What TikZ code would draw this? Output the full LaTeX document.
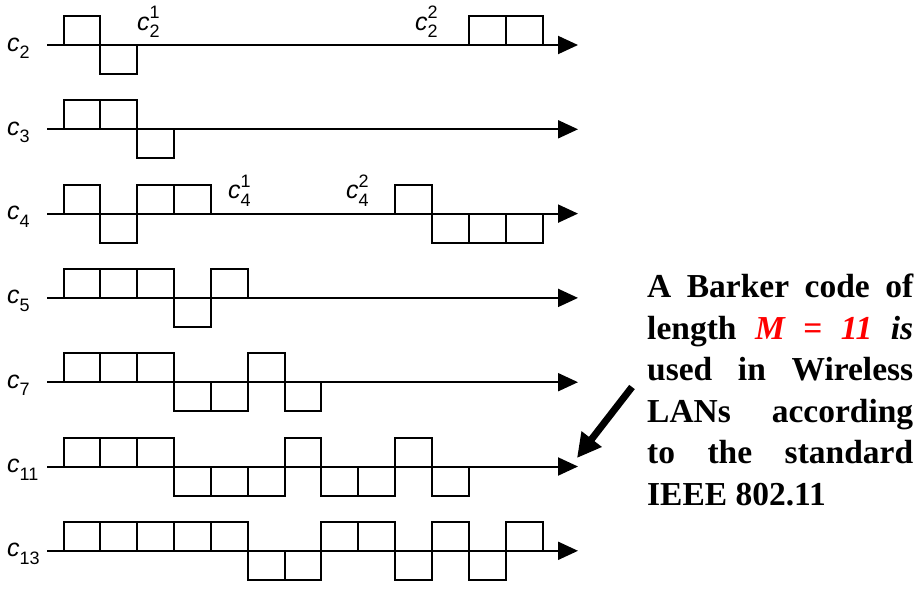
\documentclass[tikz,border=0pt]{standalone}
\usepackage{fontspec}
\usepackage{xcolor}
\usepackage{tikz}
\usetikzlibrary{arrows.meta, positioning, calc}
\newfontfamily\labfont{Liberation Sans}
\newfontfamily\txtfont{Liberation Serif}
\newcommand{\subsz}{\fontsize{18}{18}\selectfont}
\newcommand{\clab}[1]{\textit{c}\raisebox{-0.3em}{\subsz #1}}
\newcommand{\cpart}[2]{\textit{c}\rlap{\raisebox{0.45em}{\subsz #2}}\raisebox{-0.3em}{\subsz #1}}
% one row of chips: start x, axis y, list of signs
\newcommand{\chips}[3]{%
  \foreach \s [count=\i from 0] in {#3} {\draw[chipbox] ({#1+\i*36.85},#2) rectangle ++(36.85,{-29*\s});}}
\hbadness=10000

\begin{document}
\begin{tikzpicture}[
  x=1pt, y=-1pt,
  axis/.style={line width=2pt, -{Triangle[length=20pt, width=18pt]}},
  chipbox/.style={line width=2pt},
  lab/.style={font=\labfont\fontsize{25}{25}\selectfont, inner sep=0pt, anchor=base west},
  note/.style={font=\txtfont\bfseries\fontsize{33.5}{41.5}\selectfont, text width=266pt, align=justify, inner sep=0pt},
  pointer/.style={line width=7pt, -{Triangle[length=24pt, width=24pt]}}
]
\useasboundingbox (0,0) rectangle (923,592);

% axes and row labels
\foreach \r/\y in {2/45, 3/129.3, 4/213.6, 5/297.9, 7/382.2, 11/466.5, 13/550.8} {
  \coordinate (a\r) at (47,\y);
  \coordinate (b\r) at (578,\y);
  \draw[axis] (a\r) -- (b\r);
  \node[lab] (l\r) at (7,\y+6) {\clab{\r}};
}

% chip sequences
\chips{63.5}{45}{1,-1}
\chips{469}{45}{1,1}
\chips{63.5}{129.3}{1,1,-1}
\chips{63.5}{213.6}{1,-1,1,1}
\chips{395.3}{213.6}{1,-1,-1,-1}
\chips{63.5}{297.9}{1,1,1,-1,1}
\chips{63.5}{382.2}{1,1,1,-1,-1,1,-1}
\chips{63.5}{466.5}{1,1,1,-1,-1,-1,1,-1,-1,1,-1}
\chips{63.5}{550.8}{1,1,1,1,1,-1,-1,1,1,-1,1,-1,1}

% sub-sequence labels
\node[lab] (p21) at (137,30) {\cpart{2}{1}};
\node[lab] (p22) at (415,30) {\cpart{2}{2}};
\node[lab] (p41) at (228,198.6) {\cpart{4}{1}};
\node[lab] (p42) at (346,198.6) {\cpart{4}{2}};

% note and pointer
\node[note, anchor=north west] (txt) at (647,274) {A Barker code of\linebreak
length \textcolor{red}{\textit{M = 11}} \textit{is}\linebreak
used in Wireless\linebreak
LANs according\linebreak
to the standard\linebreak
IEEE 802.11};
\coordinate (ptail) at (632,387);
\coordinate (ptip) at (577,458);
\draw[pointer] (ptail) -- (ptip);
\end{tikzpicture}
\end{document}
